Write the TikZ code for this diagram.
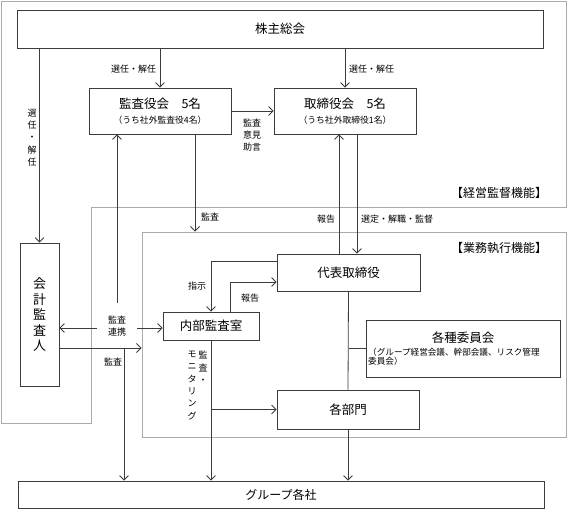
\documentclass[tikz,border=0pt]{standalone}
\usepackage{fontspec}
\setmainfont{Noto Sans CJK JP}
\usetikzlibrary{arrows.meta}
\definecolor{boxline}{HTML}{3C3C3C}
\definecolor{arealine}{HTML}{ABABAB}

\begin{document}
\begin{tikzpicture}[x=1pt, y=-1pt,
    box/.style={draw=boxline, line width=0.8pt, fill=white, inner sep=0pt},
    area/.style={draw=arealine, line width=0.9pt},
    arr/.style={draw=boxline, line width=0.8pt, -{Straight Barb[length=4.5pt,width=9pt]}},
    conn/.style={draw=boxline, line width=0.8pt},
    big/.style={font=\fontsize{12.5}{15}\selectfont},
    lab/.style={font=\fontsize{9}{12.3}\selectfont, inner sep=0pt, align=center}]

    \useasboundingbox (0,0) rectangle (567,515);

    % areas
    \draw[area] (1,1) -- (566,1) -- (566,207) -- (91,207) -- (91,423) -- (1,423) -- cycle;
    \node[area, minimum width=424pt, minimum height=205pt] (gyomu) at (354,334.5) {};
    \node[font=\fontsize{12}{14}\selectfont] (keiei-t) at (499,193) {【経営監督機能】};
    \node[font=\fontsize{12}{14}\selectfont] (gyomu-t) at (499,248) {【業務執行機能】};

    % boxes
    \node[box, big, align=center, minimum width=526pt, minimum height=38pt] (kabunushi) at (280,29) {株主総会};
    \node[box, big, align=center, minimum width=142pt, minimum height=46pt] (kansayaku) at (160,111)
        {監査役会　5名\\{\fontsize{8.8}{10}\selectfont （うち社外監査役4名）}};
    \node[box, big, align=center, minimum width=142pt, minimum height=46pt] (torishimari) at (345,111)
        {取締役会　5名\\{\fontsize{8.8}{10}\selectfont （うち社外取締役1名）}};
    \node[box, align=center, minimum width=39pt, minimum height=143pt, font=\fontsize{13}{15.5}\selectfont] (kaikei) at (39.5,314.5)
        {会\\計\\監\\査\\人};
    \node[box, big, minimum width=143pt, minimum height=37pt] (daihyo) at (348.5,272.5) {代表取締役};
    \node[box, big, minimum width=96pt, minimum height=28pt] (naibu) at (211,326) {内部監査室};
    \node[box, minimum width=194pt, minimum height=57pt] (iinkai) at (463,348.5) {};
    \node[big] (iinkai-t) at (463,338) {各種委員会};
    \node[font=\fontsize{8.6}{9.5}\selectfont, inner sep=0pt, align=left, anchor=west] (iinkai-s) at (368,356.5)
        {（グループ経営会議、幹部会議、リスク管理\\委員会）};
    \node[box, big, minimum width=142pt, minimum height=39pt] (bumon) at (348,409.5) {各部門};
    \node[box, font=\fontsize{12}{14}\selectfont, minimum width=526pt, minimum height=27pt] (group) at (281,494.5) {グループ各社};

    % labels
    \node[lab] (sennin1) at (32,137.5) {選\\任\\・\\解\\任};
    \node[lab] (sennin2) at (133.5,69) {選任・解任};
    \node[lab] (sennin3) at (371.5,69) {選任・解任};
    \node[lab] (iken) at (252,135) {監査\\意見\\助言};
    \node[lab] (kansa1) at (210,217) {監査};
    \node[lab] (hokoku1) at (326,219) {報告};
    \node[lab] (sentei) at (397,219) {選定・解職・監督};
    \node[lab] (shiji) at (197,286) {指示};
    \node[lab] (hokoku2) at (250,298) {報告};
    \node[lab, minimum width=40pt, minimum height=46pt] (renkei) at (117,326) {監査\\連携};
    \node[lab] (kansa2) at (113,362) {監査};
    \node[lab] (moniR) at (203,367.5) {監\\査\\・};
    \node[lab] (moniL) at (192,385.5) {モ\\ニ\\タ\\リ\\ン\\グ};

    % connectors
    \draw[arr] (kabunushi.south -| kaikei.north) -- (kaikei.north);
    \draw[arr] (kabunushi.south -| kansayaku.north) -- (kansayaku.north);
    \draw[arr] (kabunushi.south -| torishimari.north) -- (torishimari.north);
    \draw[arr] (kansayaku.east) -- (torishimari.west);
    \draw[arr] ([xshift=35pt]kansayaku.south) coordinate (k1) -- (k1 |- gyomu.north);

    \draw[arr] (renkei.north) -- (renkei.north |- kansayaku.south);
    \draw[arr] ([yshift=-2pt]renkei.west) coordinate (k2) -- (k2 -| kaikei.east);
    \draw[arr] ([yshift=-2pt]renkei.east) coordinate (k3) -- (k3 -| naibu.west);

    \draw[arr] ([xshift=-9.5pt]daihyo.north) coordinate (k4) -- (k4 |- torishimari.south);
    \draw[arr] ([xshift=8.5pt]torishimari.south -| daihyo.north) coordinate (k5) -- (k5 |- daihyo.north);

    \draw[arr] ([yshift=11.5pt]daihyo.west) -| (naibu.north);
    \draw[arr] ([xshift=19pt]naibu.north) |- ([yshift=-9.5pt]daihyo.west);

    \draw[arr] ([yshift=-33.5pt]kaikei.east) coordinate (k6) -- (k6 -| gyomu.west);
    \coordinate (k7) at (124,348);
    \draw[arr] (k7) -- (k7 |- group.north);

    \draw[arr] (naibu.south) -- (naibu.south |- group.north);
    \draw[arr] (naibu.south |- bumon.west) -- (bumon.west);

    \draw[conn] (daihyo.south) -- (bumon.north);
    \draw[conn] (daihyo.south |- iinkai.west) -- (iinkai.west);
    \draw[arr] (bumon.south) -- (bumon.south |- group.north);
    \end{tikzpicture}
\end{document}
